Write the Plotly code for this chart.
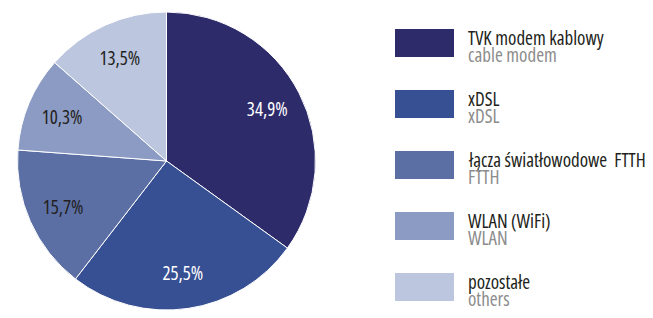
import plotly.graph_objects as go

labels_pl = ["TVK modem kablowy", "xDSL", "łącza światłowodowe  FTTH", "WLAN (WiFi)", "pozostałe"]
labels_en = ["cable modem", "xDSL", "FTTH", "WLAN", "others"]
values = [34.9, 25.5, 15.7, 10.3, 13.5]
value_text = ["34,9%", "25,5%", "15,7%", "10,3%", "13,5%"]
colors = ["#2e2b6b", "#374f93", "#5b6fa5", "#8b9bc4", "#bcc6df"]
text_colors = ["#ffffff", "#ffffff", "#231f20", "#231f20", "#231f20"]

# page body has an 8px margin on every side; size the figure so nothing overflows the window
OFF = 8
W, H = 653 - 2 * OFF, 318 - 2 * OFF
FONT = "Open Sans, sans-serif"


def cond(s):
    return "<span style='font-stretch:condensed'>" + s + "</span>"


def px_x(x):
    return (x - OFF) / W


def px_y(y):
    return 1 - (y - OFF) / H


pie_domain = dict(x=[px_x(17.5), px_x(315.5)], y=[0, px_y(12)])

fig = go.Figure()
# coloured slices
fig.add_trace(go.Pie(
    values=values,
    labels=labels_pl,
    textinfo="none",
    sort=False,
    direction="clockwise",
    rotation=0,
    marker=dict(colors=colors, line=dict(color="#ffffff", width=1)),
    domain=pie_domain,
    showlegend=False,
    hoverinfo="skip",
))
# transparent ring carrying the percentage labels (places them in the outer part of each slice)
fig.add_trace(go.Pie(
    values=values,
    labels=labels_pl,
    text=[cond(t) for t in value_text],
    textinfo="text",
    textposition="inside",
    insidetextorientation="horizontal",
    hole=0.52,
    sort=False,
    direction="clockwise",
    rotation=0,
    marker=dict(colors=["rgba(0,0,0,0)"] * len(values), line=dict(width=0)),
    textfont=dict(color=text_colors, size=19, family=FONT),
    domain=pie_domain,
    showlegend=False,
    hoverinfo="label+text",
))

shapes = []
annotations = []
top0, step, rh = 29.0, 61.0, 28.0
for i, (lp, le, c) in enumerate(zip(labels_pl, labels_en, colors)):
    top = top0 + i * step
    shapes.append(dict(type="rect", xref="paper", yref="paper",
                       x0=px_x(395), x1=px_x(454),
                       y0=px_y(top + rh), y1=px_y(top),
                       fillcolor=c, line=dict(width=0)))
    annotations.append(dict(xref="paper", yref="paper", x=px_x(466), y=px_y(top + 9),
                            text=cond(lp), showarrow=False, xanchor="left", yanchor="middle",
                            font=dict(family=FONT, size=19, color="#231f20")))
    annotations.append(dict(xref="paper", yref="paper", x=px_x(466), y=px_y(top + 25.5),
                            text=cond(le), showarrow=False, xanchor="left", yanchor="middle",
                            font=dict(family=FONT, size=19, color="#8c8c8c")))

fig.update_layout(
    width=W, height=H,
    margin=dict(l=0, r=0, t=0, b=0),
    paper_bgcolor="#ffffff",
    plot_bgcolor="#ffffff",
    shapes=shapes,
    annotations=annotations,
)

fig.write_html("out.html")
